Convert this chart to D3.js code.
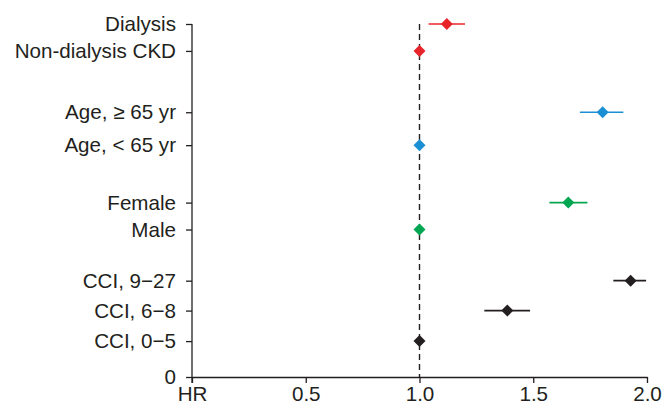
<!DOCTYPE html>
<html>
<head>
<meta charset="utf-8">
<script src="https://cdn.jsdelivr.net/npm/d3@7"></script>
<style>
  body { margin: 0; background: #fff; }
  text { font-family: "Liberation Sans", Arial, sans-serif; }
</style>
</head>
<body>
<div id="chart"></div>
<script>
// rows, from top to bottom
var labels = ["Dialysis", "Non-dialysis CKD", "Age, \u2265 65 yr", "Age, < 65 yr",
              "Female", "Male", "CCI, 9\u221227", "CCI, 6\u22128", "CCI, 0\u22125"];
var rowPos = [11.8, 10.9, 8.85, 7.75, 5.83, 4.93, 3.22, 2.22, 1.2];
var hr     = [1.12, 1.0, 1.805, 1.0, 1.654, 1.0, 1.928, 1.386, 1.0];
var lower  = [1.04, null, 1.705, null, 1.571, null, 1.852, 1.285, null];
var upper  = [1.20, null, 1.896, null, 1.738, null, 1.996, 1.486, null];
var groupColor = ["#e8242b", "#e8242b", "#1b8fd4", "#1b8fd4", "#00a651", "#00a651",
                  "#231f20", "#231f20", "#231f20"];
var xTicks = [0, 0.5, 1.0, 1.5, 2.0];
var xTickLabels = ["HR", "0.5", "1.0", "1.5", "2.0"];

var width = 664, height = 409;
var margin = {top: 24, right: 17, bottom: 32, left: 192};
var w = width - margin.left - margin.right,
    h = height - margin.top - margin.bottom;

var svg = d3.select("#chart")
  .append("svg")
    .attr("width", width)
    .attr("height", height)
  .append("g")
    .attr("transform", "translate(" + margin.left + "," + margin.top + ")");

var x = d3.scaleLinear().domain([0, 2]).range([0, w]);
var y = d3.scaleLinear().domain([0, 11.8]).range([h, 0]);

// x axis
var xAxis = svg.append("g")
  .attr("transform", "translate(0," + h + ")")
  .call(d3.axisBottom(x).tickValues(xTicks)
    .tickFormat(function(d, i) { return xTickLabels[i]; })
    .tickSize(6).tickPadding(2).tickSizeOuter(0));

// y axis
var yAxis = svg.append("g")
  .call(d3.axisLeft(y).tickValues([0].concat(rowPos))
    .tickFormat(function(d) {
      var i = rowPos.indexOf(d);
      return i < 0 ? "0" : labels[i];
    })
    .tickSize(6).tickPadding(10).tickSizeOuter(0));

[xAxis, yAxis].forEach(function(a) {
  a.select(".domain").attr("stroke", "#231f20").attr("stroke-width", 1.3);
  a.selectAll(".tick line").attr("stroke", "#231f20").attr("stroke-width", 1.3);
  a.selectAll("text").attr("font-size", 20.6).attr("fill", "#231f20")
    .attr("font-family", "Liberation Sans, Arial, sans-serif");
});
xAxis.selectAll("text").attr("dy", "0.76em");
// the y axis line also pokes a little below the x axis
yAxis.select(".domain").attr("d", "M0,0V" + (h + 6));

// reference line at HR = 1
svg.append("line")
  .attr("x1", x(1)).attr("x2", x(1))
  .attr("y1", y(11.8)).attr("y2", h)
  .attr("stroke", "#231f20")
  .attr("stroke-width", 1.4)
  .attr("stroke-dasharray", "6,4");

var rows = labels.map(function(l, i) {
  return {label: l, pos: rowPos[i], hr: hr[i], lo: lower[i], hi: upper[i], color: groupColor[i]};
});

// confidence intervals
svg.selectAll(".ci")
  .data(rows.filter(function(d) { return d.lo != null; }))
  .enter().append("line")
    .attr("class", "ci")
    .attr("x1", function(d) { return x(d.lo); })
    .attr("x2", function(d) { return x(d.hi); })
    .attr("y1", function(d) { return y(d.pos); })
    .attr("y2", function(d) { return y(d.pos); })
    .attr("stroke", function(d) { return d.color; })
    .attr("stroke-width", 1.6);

// diamonds
svg.selectAll(".pt")
  .data(rows)
  .enter().append("path")
    .attr("class", "pt")
    .attr("transform", function(d) { return "translate(" + x(d.hr) + "," + y(d.pos) + ")"; })
    .attr("d", "M0,-6L6,0L0,6L-6,0Z")
    .attr("fill", function(d) { return d.color; });
</script>
</body>
</html>
